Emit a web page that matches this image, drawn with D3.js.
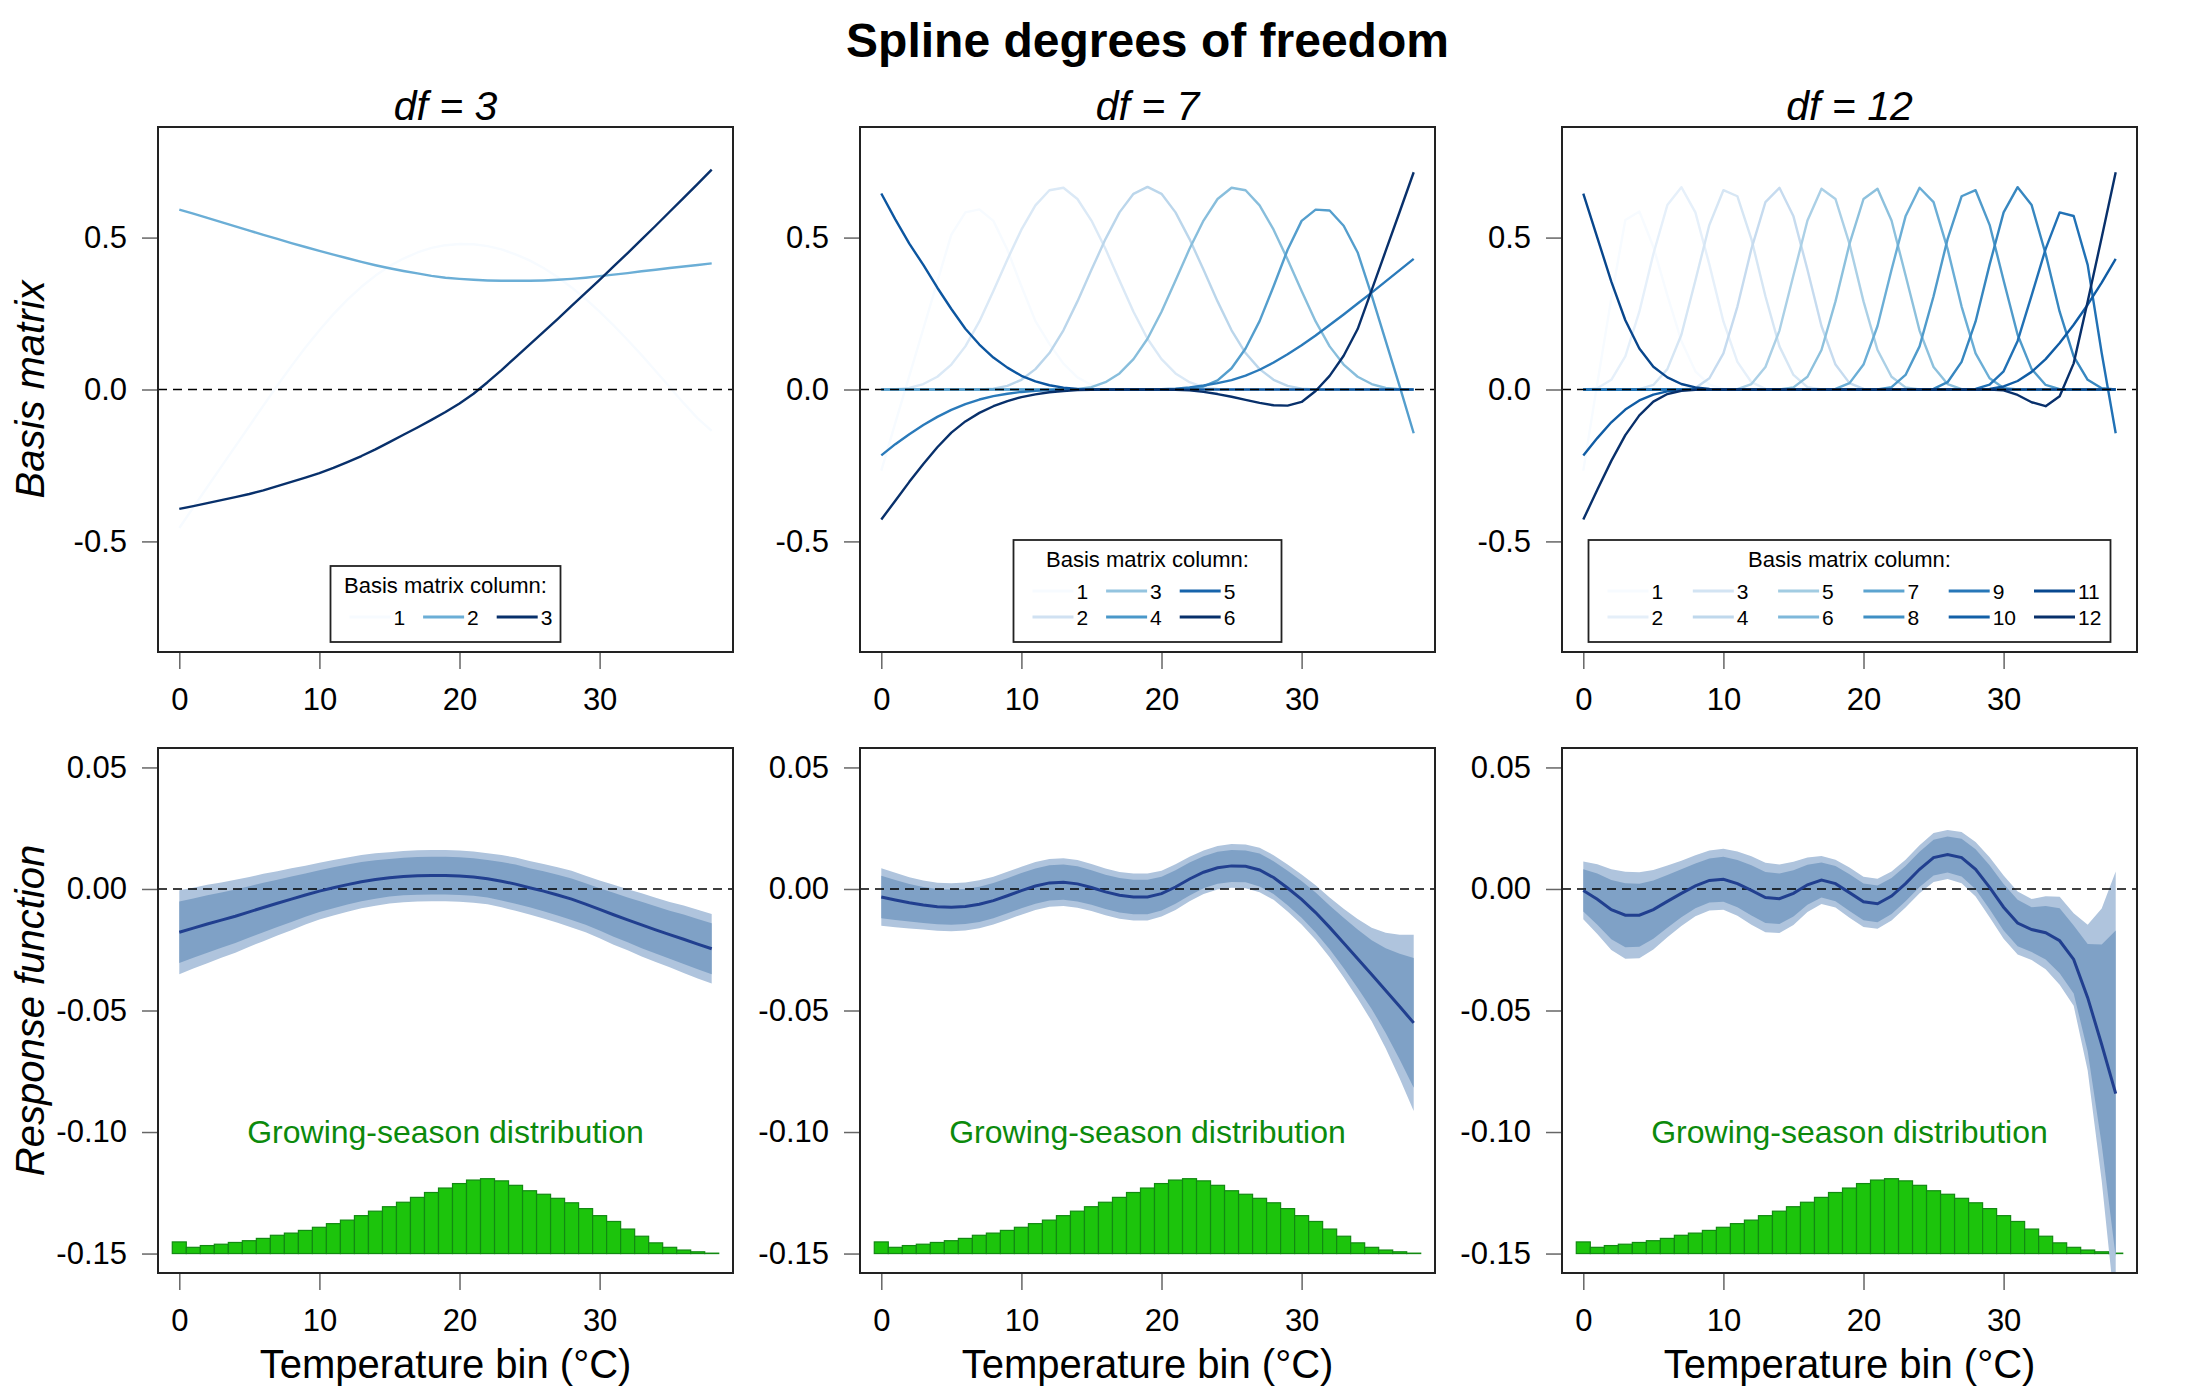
<!DOCTYPE html>
<html>
<head>
<meta charset="utf-8">
<script src="https://cdn.jsdelivr.net/npm/d3@7"></script>
<style>
body { margin: 0; background: #fff; }
</style>
</head>
<body>
<div id="chart-area"></div>
<script>
/*
*    Spline degrees of freedom
*    basis matrix columns (top) and fitted response functions (bottom)
*/

const WIDTH = 2200
const HEIGHT = 1400
const FONT = "'Liberation Sans', Arial, Helvetica, sans-serif"
const PANEL = { W: 575, H: 525 }
const COL_LEFT = [158, 860, 1562]
const ROW_TOP = [127, 748]
const LEGEND_W = [230, 268, 522]

// ---- data ----
const tempBins = [0,1,2,3,4,5,6,7,8,9,10,11,12,13,14,15,16,17,18,19,20,21,22,23,24,25,26,27,28,29,30,31,32,33,34,35,36,37,38]
const dfTitles = ["df = 3", "df = 7", "df = 12"]
const legendSizes = [3, 6, 12]
const xTicks = [0, 10, 20, 30]
const yTicksBasis = [-0.5, 0, 0.5]
const yTicksResponse = [0.05, 0, -0.05, -0.10, -0.15]
const blues = ["#F7FBFF","#DEEBF7","#C6DBEF","#9ECAE1","#6BAED6","#4292C6","#2171B5","#08519C","#08306B"]

const basisDf3 = [
  [-0.456,-0.388,-0.321,-0.254,-0.187,-0.120,-0.053,0.013,0.077,0.138, 0.195,0.248,0.296,0.338,0.375,0.406,0.431,0.451,0.466,0.475, 0.479,0.478,0.472,0.461,0.445,0.425,0.400,0.370,0.336,0.298, 0.256,0.211,0.163,0.113,0.061,0.008,-0.045,-0.095,-0.136],
  [0.592,0.579,0.565,0.551,0.537,0.523,0.509,0.496,0.482,0.469, 0.456,0.444,0.432,0.420,0.409,0.399,0.390,0.382,0.374,0.368, 0.364,0.361,0.359,0.358,0.358,0.358,0.359,0.361,0.364,0.368, 0.373,0.378,0.383,0.389,0.394,0.400,0.405,0.410,0.415],
  [-0.393,-0.384,-0.374,-0.364,-0.354,-0.344,-0.332,-0.318,-0.304,-0.290, -0.275,-0.258,-0.239,-0.219,-0.197,-0.173,-0.149,-0.125,-0.100,-0.074, -0.046,-0.014,0.024,0.064,0.106,0.148,0.190,0.232,0.275,0.318, 0.361,0.405,0.449,0.494,0.539,0.585,0.631,0.677,0.724]
]

const basisDf7 = [
  [-0.267,-0.110,0.045,0.200,0.355,0.510,0.583,0.593,0.555,0.460, 0.340,0.225,0.150,0.085,0.040,0.015,0.004,0,0,0, 0,0,0,0,0,0,0,0,0,0, 0,0,0,0,0,0,0,0,0],
  [0,0.001,0.005,0.018,0.042,0.082,0.142,0.224,0.324,0.428, 0.526,0.606,0.656,0.664,0.627,0.556,0.463,0.359,0.256,0.167, 0.100,0.053,0.024,0.008,0.002,0,0,0,0,0, 0,0,0,0,0,0,0,0,0],
  [0,0,0,0,0,0,0,0,0.003,0.012, 0.032,0.067,0.120,0.195,0.290,0.394,0.495,0.583,0.644,0.667, 0.644,0.583,0.495,0.394,0.290,0.195,0.120,0.067,0.032,0.012, 0.003,0,0,0,0,0,0,0,0],
  [0,0,0,0,0,0,0,0,0,0, 0,0,0,0,0.002,0.008,0.024,0.053,0.100,0.167, 0.256,0.359,0.463,0.556,0.627,0.664,0.656,0.606,0.526,0.428, 0.324,0.224,0.142,0.082,0.042,0.018,0.005,0.001,0],
  [0,0,0,0,0,0,0,0,0,0, 0,0,0,0,0,0,0,0,0,0, 0,0,0.002,0.010,0.030,0.070,0.135,0.225,0.340,0.460, 0.555,0.592,0.589,0.539,0.451,0.310,0.160,0.010,-0.144],
  [-0.217,-0.180,-0.147,-0.117,-0.090,-0.067,-0.048,-0.033,-0.022,-0.014, -0.008,-0.004,-0.002,-0.001,0,0,0,0,0,0, 0.001,0.003,0.007,0.013,0.021,0.031,0.046,0.065,0.089,0.116, 0.146,0.178,0.212,0.247,0.283,0.319,0.356,0.393,0.430],
  [0.645,0.560,0.480,0.410,0.335,0.265,0.200,0.148,0.105,0.072, 0.045,0.027,0.014,0.006,0.002,0.001,0,0,0,0, 0,0,0,0,0,0,0,0,0,0, 0,0,0,0,0,0,0,0,0],
  [-0.428,-0.366,-0.304,-0.245,-0.190,-0.142,-0.105,-0.077,-0.055,-0.038, -0.025,-0.016,-0.009,-0.005,-0.002,-0.001,0,0,0,0, 0,-0.001,-0.003,-0.008,-0.015,-0.024,-0.034,-0.044,-0.052,-0.053, -0.041,-0.005,0.045,0.111,0.199,0.327,0.456,0.585,0.715]
]

const basisDf12 = [
  [-0.267,0.020,0.300,0.558,0.586,0.470,0.310,0.160,0.060,0.016, 0.002,0,0,0,0,0,0,0,0,0, 0,0,0,0,0,0,0,0,0,0, 0,0,0,0,0,0,0,0,0],
  [0,0.004,0.032,0.109,0.256,0.446,0.607,0.666,0.583,0.411, 0.224,0.091,0.024,0.002,0,0,0,0,0,0, 0,0,0,0,0,0,0,0,0,0, 0,0,0,0,0,0,0,0,0],
  [0,0,0,0,0.001,0.015,0.067,0.180,0.359,0.542, 0.656,0.636,0.495,0.307,0.142,0.048,0.008,0,0,0, 0,0,0,0,0,0,0,0,0,0, 0,0,0,0,0,0,0,0,0],
  [0,0,0,0,0,0,0,0,0.005,0.037, 0.119,0.273,0.463,0.617,0.664,0.570,0.394,0.209,0.082,0.021, 0.002,0,0,0,0,0,0,0,0,0, 0,0,0,0,0,0,0,0,0],
  [0,0,0,0,0,0,0,0,0,0, 0,0.001,0.018,0.074,0.194,0.376,0.556,0.661,0.627,0.479, 0.290,0.130,0.042,0.007,0,0,0,0,0,0, 0,0,0,0,0,0,0,0,0],
  [0,0,0,0,0,0,0,0,0,0, 0,0,0,0,0,0.007,0.042,0.130,0.290,0.479, 0.627,0.661,0.556,0.376,0.194,0.074,0.018,0.001,0,0, 0,0,0,0,0,0,0,0,0],
  [0,0,0,0,0,0,0,0,0,0, 0,0,0,0,0,0,0,0,0.002,0.021, 0.082,0.209,0.394,0.570,0.664,0.617,0.463,0.273,0.119,0.037, 0.005,0,0,0,0,0,0,0,0],
  [0,0,0,0,0,0,0,0,0,0, 0,0,0,0,0,0,0,0,0,0, 0,0,0.008,0.048,0.142,0.307,0.495,0.636,0.656,0.542, 0.359,0.180,0.067,0.015,0.001,0,0,0,0],
  [0,0,0,0,0,0,0,0,0,0, 0,0,0,0,0,0,0,0,0,0, 0,0,0,0,0,0.002,0.024,0.091,0.224,0.411, 0.583,0.666,0.607,0.446,0.256,0.109,0.032,0.004,0],
  [0,0,0,0,0,0,0,0,0,0, 0,0,0,0,0,0,0,0,0,0, 0,0,0,0,0,0,0,0,0.002,0.016, 0.060,0.160,0.310,0.463,0.583,0.571,0.410,0.120,-0.144],
  [-0.217,-0.160,-0.108,-0.066,-0.036,-0.017,-0.006,-0.002,0,0, 0,0,0,0,0,0,0,0,0,0, 0,0,0,0,0,0,0,0,0,0.002, 0.010,0.028,0.058,0.100,0.153,0.213,0.279,0.352,0.430],
  [0.645,0.500,0.355,0.228,0.135,0.075,0.040,0.018,0.007,0.002, 0,0,0,0,0,0,0,0,0,0, 0,0,0,0,0,0,0,0,0,0, 0,0,0,0,0,0,0,0,0],
  [-0.428,-0.330,-0.235,-0.150,-0.085,-0.040,-0.015,-0.004,-0.001,0, 0,0,0,0,0,0,0,0,0,0, 0,0,0,0,0,0,0,0,0,0, -0.003,-0.018,-0.042,-0.055,-0.022,0.086,0.290,0.500,0.715]
]

// fitted response and its standard error per temperature bin
const responseDf3 = [-0.0178,-0.0161,-0.0144,-0.0128,-0.0112,-0.0094,-0.0076,-0.0059,-0.0042,-0.0025, -0.0009,0.0005,0.0018,0.0030,0.0039,0.0046,0.0051,0.0054,0.0055,0.0055, 0.0053,0.0049,0.0042,0.0032,0.0020,0.0005,-0.0009,-0.0025,-0.0042,-0.0062, -0.0084,-0.0106,-0.0127,-0.0148,-0.0168,-0.0188,-0.0207,-0.0227,-0.0246]
const seDf3 = [0.0077,0.0074,0.0072,0.0069,0.0067,0.0064,0.0062,0.0059,0.0057,0.0054, 0.0052,0.0051,0.0050,0.0049,0.0048,0.0047,0.0047,0.0047,0.0047,0.0047, 0.0047,0.0047,0.0047,0.0048,0.0049,0.0049,0.0050,0.0051,0.0052,0.0052, 0.0053,0.0055,0.0056,0.0058,0.0059,0.0060,0.0062,0.0063,0.0064]

const responseDf7 = [-0.0033,-0.0045,-0.0057,-0.0066,-0.0073,-0.0075,-0.0072,-0.0063,-0.0048,-0.0028, -0.0007,0.0012,0.0025,0.0028,0.0021,0.0006,-0.0012,-0.0026,-0.0033,-0.0033, -0.0019,0.0008,0.0041,0.0069,0.0087,0.0095,0.0093,0.0078,0.0047,0.0004, -0.0043,-0.0097,-0.0158,-0.0222,-0.0287,-0.0352,-0.0418,-0.0484,-0.0551]
const seDf7 = [0.0053,0.0050,0.0047,0.0045,0.0044,0.0044,0.0044,0.0044,0.0044,0.0044, 0.0044,0.0044,0.0044,0.0044,0.0044,0.0043,0.0043,0.0043,0.0043,0.0043, 0.0042,0.0042,0.0041,0.0040,0.0040,0.0040,0.0040,0.0041,0.0041,0.0043, 0.0046,0.0050,0.0055,0.0063,0.0073,0.0086,0.0106,0.0132,0.0162]

const responseDf12 = [-0.0006,-0.0042,-0.0085,-0.0108,-0.0108,-0.0085,-0.0051,-0.0018,0.0013,0.0035, 0.0040,0.0022,-0.0006,-0.0035,-0.0040,-0.0018,0.0017,0.0037,0.0022,-0.0015, -0.0053,-0.0061,-0.0029,0.0022,0.0081,0.0129,0.0142,0.0129,0.0081,0.0007, -0.0075,-0.0140,-0.0167,-0.0180,-0.0213,-0.0290,-0.0447,-0.0640,-0.0842]
const seDf12 = [0.0053,0.0064,0.0074,0.0080,0.0079,0.0073,0.0066,0.0060,0.0056,0.0055, 0.0056,0.0059,0.0063,0.0064,0.0063,0.0058,0.0050,0.0044,0.0044,0.0046, 0.0046,0.0046,0.0045,0.0044,0.0044,0.0045,0.0045,0.0047,0.0050,0.0055, 0.0058,0.0058,0.0056,0.0067,0.0081,0.0085,0.0134,0.0250,0.0408]

// share of growing-season exposure per bin (%)
const seasonShare = [0.86,0.46,0.59,0.69,0.82,0.95,1.12,1.35,1.51,1.71, 1.94,2.21,2.47,2.80,3.13,3.46,3.79,4.15,4.51,4.84, 5.17,5.43,5.53,5.37,5.04,4.64,4.38,4.08,3.75,3.32, 2.80,2.37,1.81,1.28,0.79,0.46,0.26,0.13,0.03]

const Z_INNER = 1.645
const Z_OUTER = 2.24

const basisSets = [basisDf3, basisDf7, basisDf12]
const responses = [responseDf3, responseDf7, responseDf12]
const seSets = [seDf3, seDf7, seDf12]

// ---- drawing ----
const svg = d3.select("#chart-area")
    .append("svg")
    .attr("width", WIDTH)
    .attr("height", HEIGHT)
    .style("font-family", FONT)

svg.append("rect").attr("width", WIDTH).attr("height", HEIGHT).attr("fill", "#fff")

const blueScale = d3.scaleLinear().domain(blues.map((c, i) => i / (blues.length - 1))).range(blues)
const ramp = n => d3.range(n).map(i => blueScale(n === 1 ? 0 : i / (n - 1)))

svg.append("text")
    .attr("x", 1147.5)
    .attr("y", 57)
    .attr("text-anchor", "middle")
    .attr("font-weight", "bold")
    .attr("font-size", 48)
    .text("Spline degrees of freedom")

function styleAxis(a) {
    a.select(".domain").remove()
    a.attr("font-family", FONT).attr("font-size", 31)
    a.selectAll("line").attr("stroke", "#666").attr("stroke-width", 1.5)
    a.selectAll("text").attr("fill", "#000")
}

function makeFrame(col, row, yDomain, yTicks, yFmt) {
    const left = COL_LEFT[col]
    const top = ROW_TOP[row]
    const x = d3.scaleLinear().domain([-1.52, 39.52]).range([left, left + PANEL.W])
    const y = d3.scaleLinear().domain(yDomain).range([top + PANEL.H, top])

    const clipId = `clip-${row}-${col}`
    svg.append("clipPath").attr("id", clipId)
        .append("rect").attr("x", left).attr("y", top).attr("width", PANEL.W).attr("height", PANEL.H)

    svg.append("g")
        .attr("transform", `translate(0,${top + PANEL.H})`)
        .call(d3.axisBottom(x).tickValues(xTicks).tickSize(17).tickPadding(19).tickFormat(d3.format("d")))
        .call(styleAxis)

    svg.append("g")
        .attr("transform", `translate(${left},0)`)
        .call(d3.axisLeft(y).tickValues(yTicks).tickSize(16).tickPadding(15).tickFormat(yFmt))
        .call(styleAxis)

    const plot = svg.append("g").attr("clip-path", `url(#${clipId})`)
    return { x, y, plot, left, top }
}

function drawBox(f) {
    svg.append("rect")
        .attr("x", f.left).attr("y", f.top)
        .attr("width", PANEL.W).attr("height", PANEL.H)
        .attr("fill", "none").attr("stroke", "#222").attr("stroke-width", 2)
}

function zeroLine(f) {
    f.plot.append("line")
        .attr("x1", f.left).attr("x2", f.left + PANEL.W)
        .attr("y1", f.y(0)).attr("y2", f.y(0))
        .attr("stroke", "#000").attr("stroke-width", 1.6)
        .attr("stroke-dasharray", "9,6")
}

function drawLegend(col, n) {
    const colors = ramp(n)
    const nRows = n > 3 ? 2 : 1
    const labelW = n >= 10 ? 23.4 : 11.7
    const pitch = 61.9 + labelW
    const boxW = LEGEND_W[col]
    const boxH = nRows === 1 ? 76 : 102
    const cx = COL_LEFT[col] + PANEL.W / 2
    const bottom = ROW_TOP[0] + PANEL.H - 10
    const left = cx - boxW / 2
    const lg = svg.append("g")

    lg.append("rect")
        .attr("x", left).attr("y", bottom - boxH)
        .attr("width", boxW).attr("height", boxH)
        .attr("fill", "#fff").attr("stroke", "#222").attr("stroke-width", 1.8)

    lg.append("text")
        .attr("x", cx).attr("y", bottom - boxH + 27)
        .attr("text-anchor", "middle").attr("font-size", 22)
        .text("Basis matrix column:")

    colors.forEach((c, k) => {
        const cc = Math.floor(k / nRows)
        const r = k % nRows
        const yy = bottom - 25 - (nRows - 1 - r) * 26
        const x0 = left + 19 + cc * pitch
        lg.append("line")
            .attr("x1", x0).attr("x2", x0 + 41)
            .attr("y1", yy).attr("y2", yy)
            .attr("stroke", c).attr("stroke-width", 3)
        lg.append("text")
            .attr("x", x0 + 44).attr("y", yy + 7.5)
            .attr("font-size", 21)
            .text(k + 1)
    })
}

const histScale = d3.scaleLinear().domain([0, d3.max(seasonShare)]).range([-0.15, -0.1192])

basisSets.forEach((basis, col) => {
    // top row: basis matrix
    const f = makeFrame(col, 0, [-0.864, 0.864], yTicksBasis, v => v.toFixed(1))
    const colors = ramp(basis.length)
    const line = d3.line().x((d, i) => f.x(tempBins[i])).y(d => f.y(d))

    f.plot.selectAll(".basis")
        .data(basis)
        .enter()
        .append("path")
        .attr("d", line)
        .attr("fill", "none")
        .attr("stroke", (d, i) => colors[i])
        .attr("stroke-width", 2.4)
        .attr("stroke-linejoin", "round")

    zeroLine(f)
    drawBox(f)
    drawLegend(col, legendSizes[col])

    svg.append("text")
        .attr("x", f.left + PANEL.W / 2).attr("y", 120)
        .attr("text-anchor", "middle").attr("font-size", 41)
        .attr("font-style", "italic")
        .text(dfTitles[col])

    // bottom row: response function
    const b = makeFrame(col, 1, [-0.158, 0.058], yTicksResponse, v => v.toFixed(2))
    const mean = responses[col]
    const se = seSets[col]

    b.plot.selectAll(".bar")
        .data(seasonShare)
        .enter()
        .append("rect")
        .attr("x", (d, i) => b.x(tempBins[i] - 0.5))
        .attr("width", (d, i) => b.x(tempBins[i] + 0.5) - b.x(tempBins[i] - 0.5))
        .attr("y", d => b.y(histScale(d)))
        .attr("height", d => b.y(-0.15) - b.y(histScale(d)))
        .attr("fill", "#1CC40C")
        .attr("stroke", "#128A12")
        .attr("stroke-width", 1.2)

    const band = z => d3.area()
        .x((d, i) => b.x(tempBins[i]))
        .y0((d, i) => b.y(d - z * se[i]))
        .y1((d, i) => b.y(d + z * se[i]))

    b.plot.append("path").datum(mean).attr("d", band(Z_OUTER)).attr("fill", "#AFC4DD")
    b.plot.append("path").datum(mean).attr("d", band(Z_INNER)).attr("fill", "#7FA1C6")

    zeroLine(b)

    b.plot.append("path")
        .datum(mean)
        .attr("d", d3.line().x((d, i) => b.x(tempBins[i])).y(d => b.y(d)))
        .attr("fill", "none")
        .attr("stroke", "#213F8F")
        .attr("stroke-width", 3)

    b.plot.append("text")
        .attr("x", b.x(19)).attr("y", b.y(-0.10) + 11)
        .attr("text-anchor", "middle").attr("font-size", 32)
        .attr("fill", "#0C8A0C")
        .text("Growing-season distribution")

    drawBox(b)

    svg.append("text")
        .attr("x", b.left + PANEL.W / 2).attr("y", 1378)
        .attr("text-anchor", "middle").attr("font-size", 40)
        .text("Temperature bin (°C)")
})

svg.append("text")
    .attr("transform", "translate(44, 389.5) rotate(-90)")
    .attr("text-anchor", "middle").attr("font-size", 40).attr("font-style", "italic")
    .text("Basis matrix")

svg.append("text")
    .attr("transform", "translate(44, 1010.5) rotate(-90)")
    .attr("text-anchor", "middle").attr("font-size", 40).attr("font-style", "italic")
    .text("Response function")
</script>
</body>
</html>
